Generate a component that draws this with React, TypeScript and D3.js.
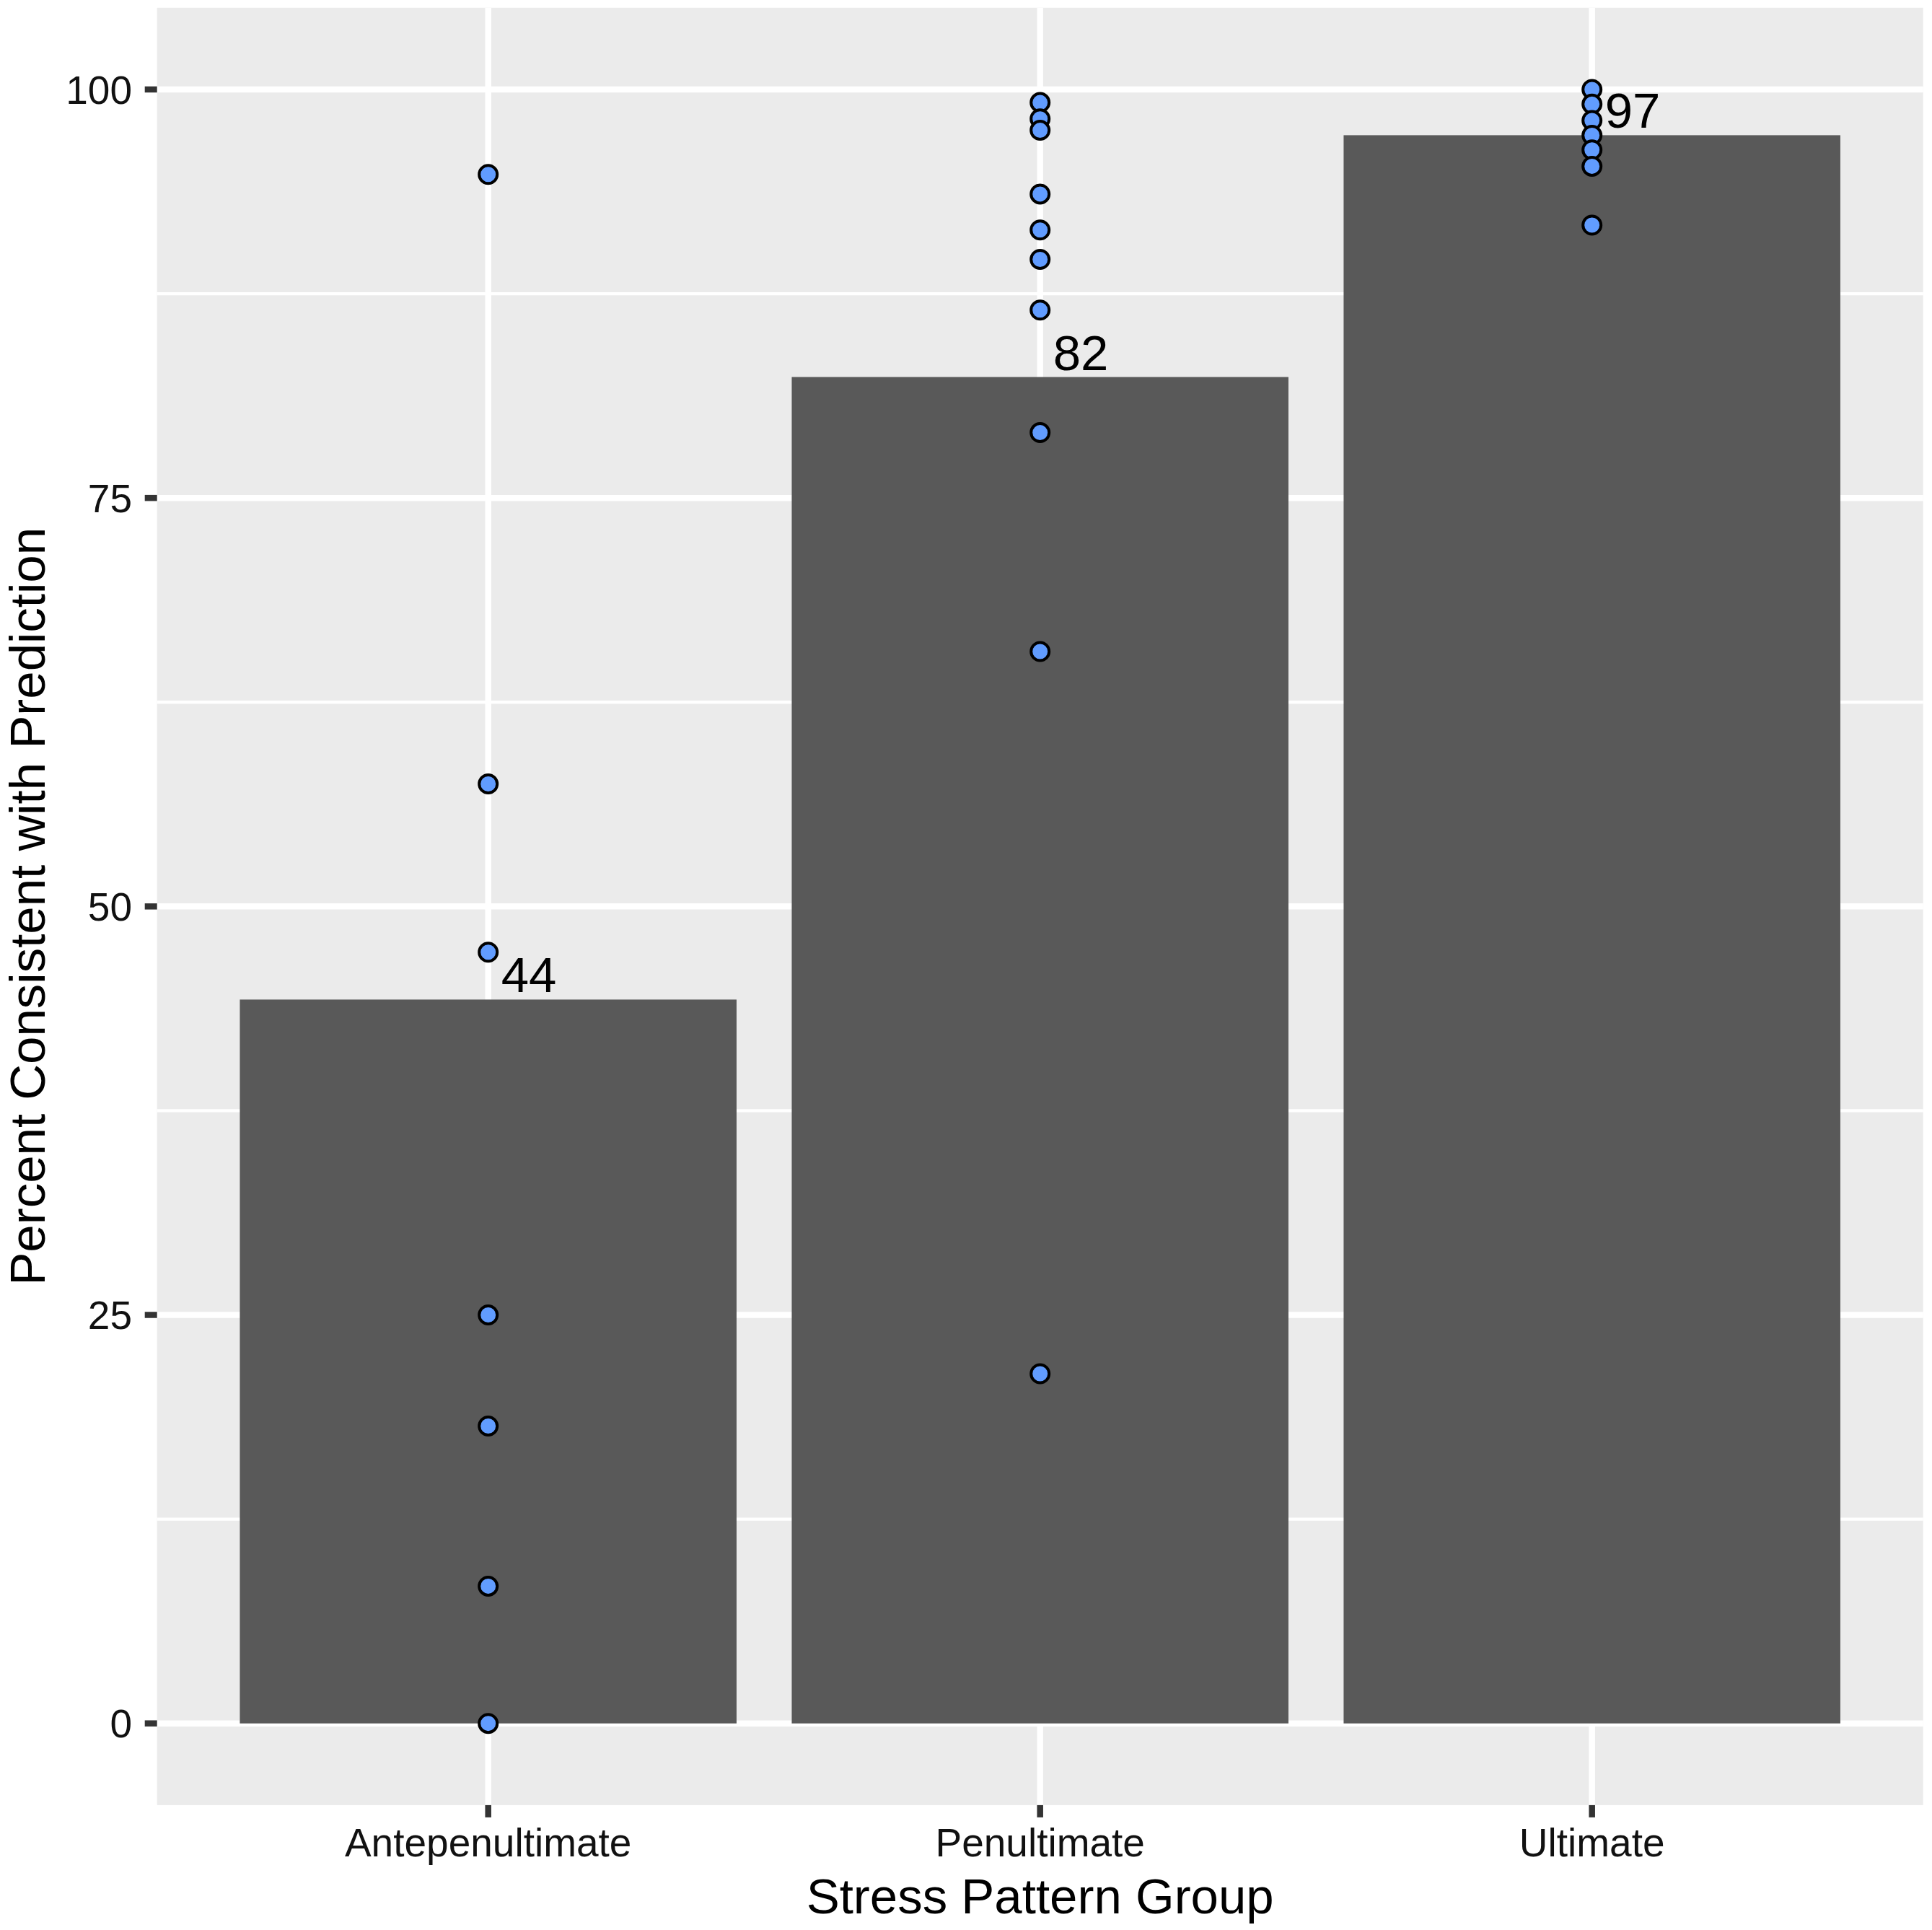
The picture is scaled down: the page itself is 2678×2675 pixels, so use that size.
import React from 'react';
import * as d3 from 'd3';

// chart values
const categories = ['Antepenultimate', 'Penultimate', 'Ultimate'];
const barValues = [44.3, 82.4, 97.2];
const barLabels = ['44', '82', '97'];
const antepenultimatePoints = [94.8, 57.5, 47.2, 25.0, 18.2, 8.4, 0];
const penultimatePoints = [99.2, 98.2, 97.5, 93.6, 91.4, 89.6, 86.5, 79.0, 65.6, 21.4];
const ultimatePoints = [100, 99.1, 98.1, 97.2, 96.3, 95.3, 91.7];
const yTicks = [0, 25, 50, 75, 100];
const yMinorTicks = [12.5, 37.5, 62.5, 87.5];

const pointGroups = [antepenultimatePoints, penultimatePoints, ultimatePoints];

const WIDTH = 2678;
const HEIGHT = 2675;
const margin = { top: 10.75, right: 12.3, bottom: 2675 - 2501.9, left: 217.7 };
const FONT = '"Liberation Sans", Arial, Helvetica, sans-serif';

const App: React.FC = () => {
  const x = d3.scalePoint<string>()
    .domain(categories)
    .range([margin.left, WIDTH - margin.right])
    .padding(0.6);
  const step = x.step();
  const barWidth = step * 0.9;

  const y = d3.scaleLinear()
    .domain([-5, 105])
    .range([HEIGHT - margin.bottom, margin.top]);

  const panelLeft = margin.left;
  const panelRight = WIDTH - margin.right;
  const panelTop = margin.top;
  const panelBottom = HEIGHT - margin.bottom;

  return (
    <svg
      width={WIDTH}
      height={HEIGHT}
      style={{ position: 'absolute', left: 0, top: 0, background: '#fff' }}
      fontFamily={FONT}
    >
      {/* panel background */}
      <rect x={panelLeft} y={panelTop} width={panelRight - panelLeft} height={panelBottom - panelTop} fill="#EBEBEB" />

      {/* minor grid */}
      {yMinorTicks.map(t => (
        <line key={`mn${t}`} x1={panelLeft} x2={panelRight} y1={y(t)} y2={y(t)} stroke="#fff" strokeWidth={4.3} />
      ))}
      {/* major grid */}
      {yTicks.map(t => (
        <line key={`mj${t}`} x1={panelLeft} x2={panelRight} y1={y(t)} y2={y(t)} stroke="#fff" strokeWidth={8.5} />
      ))}
      {categories.map(c => (
        <line key={`v${c}`} x1={x(c)} x2={x(c)} y1={panelTop} y2={panelBottom} stroke="#fff" strokeWidth={8.5} />
      ))}

      {/* bars */}
      {categories.map((c, i) => (
        <rect
          key={`b${c}`}
          x={(x(c) as number) - barWidth / 2}
          width={barWidth}
          y={y(barValues[i])}
          height={y(0) - y(barValues[i])}
          fill="#595959"
        />
      ))}

      {/* bar labels */}
      {categories.map((c, i) => (
        <text
          key={`l${c}`}
          x={(x(c) as number) + 18}
          y={y(barValues[i]) - 10}
          fontSize={69}
          fill="#000"
        >
          {barLabels[i]}
        </text>
      ))}

      {/* points */}
      {categories.map((c, i) =>
        pointGroups[i].map((v, j) => (
          <circle
            key={`p${c}${j}`}
            cx={x(c)}
            cy={y(v)}
            r={12.5}
            fill="#619CFF"
            stroke="#000"
            strokeWidth={4}
          />
        ))
      )}

      {/* y axis */}
      {yTicks.map(t => (
        <g key={`yt${t}`}>
          <line x1={panelLeft - 17} x2={panelLeft} y1={y(t)} y2={y(t)} stroke="#333333" strokeWidth={8.5} />
          <text x={183} y={y(t)} dy="0.36em" textAnchor="end" fontSize={55} fill="#111">
            {t}
          </text>
        </g>
      ))}

      {/* x axis */}
      {categories.map(c => (
        <g key={`xt${c}`}>
          <line x1={x(c)} x2={x(c)} y1={panelBottom} y2={panelBottom + 17} stroke="#333333" strokeWidth={8.5} />
          <text x={x(c)} y={2573} textAnchor="middle" fontSize={55} fill="#111">
            {c}
          </text>
        </g>
      ))}

      {/* axis titles */}
      <text x={(panelLeft + panelRight) / 2} y={2652} textAnchor="middle" fontSize={69} fill="#000">
        Stress Pattern Group
      </text>
      <text
        transform={`translate(62,${(panelTop + panelBottom) / 2}) rotate(-90)`}
        textAnchor="middle"
        fontSize={69}
        fill="#000"
      >
        Percent Consistent with Prediction
      </text>
    </svg>
  );
};

export default App;
